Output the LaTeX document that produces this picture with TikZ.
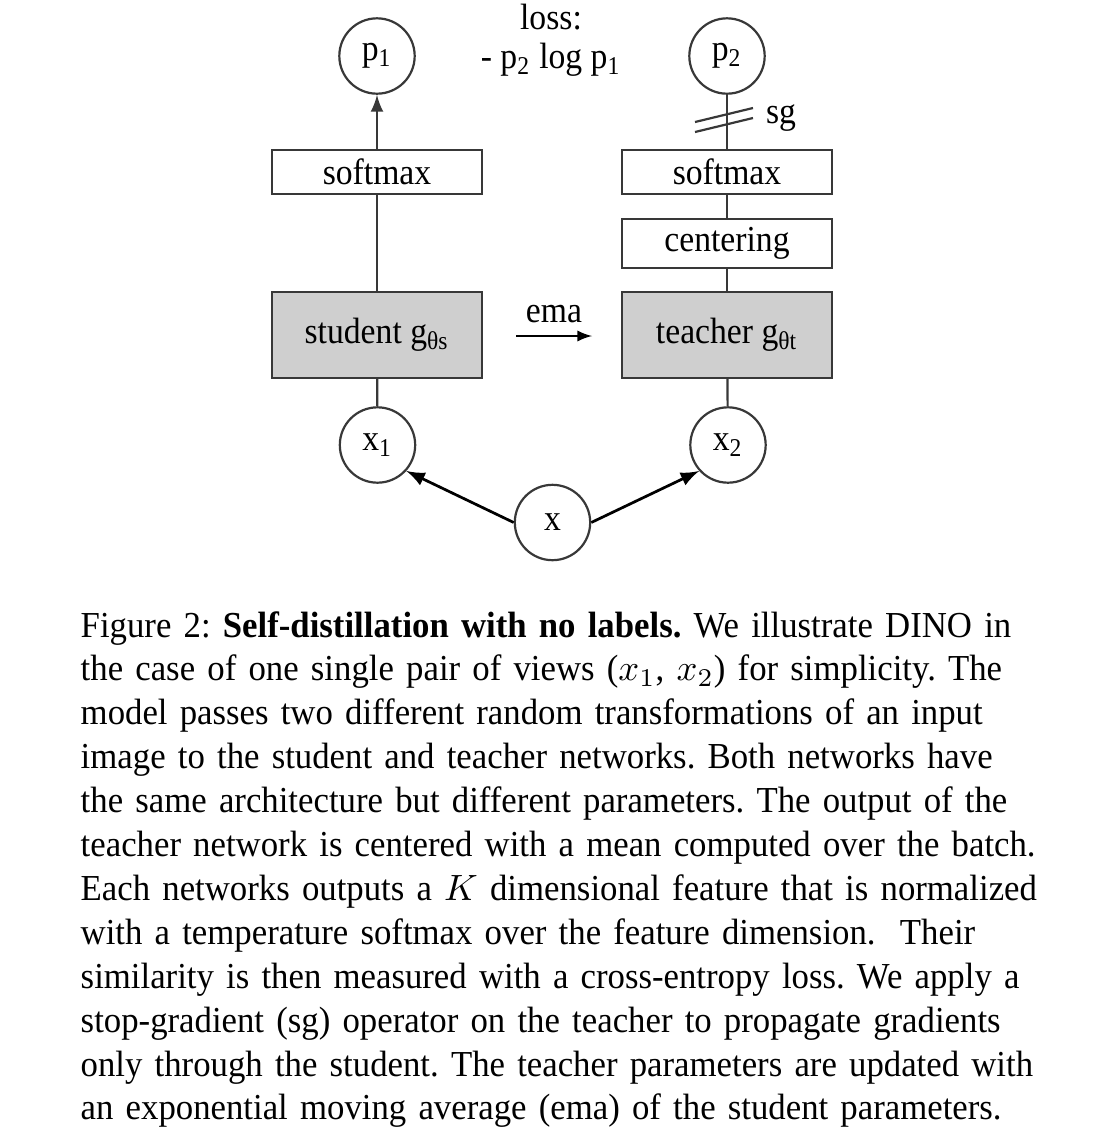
\documentclass[tikz,border=0pt]{standalone}
\usepackage[no-math]{fontspec}
\setmainfont[FakeStretch=0.95]{Liberation Serif}
\newfontfamily\diagfont[FakeStretch=0.92]{Liberation Serif}
\usetikzlibrary{arrows,positioning,calc}

\newcommand{\capfont}{\normalfont\fontsize{10}{12}\selectfont\frenchspacing
  \spaceskip=0.25em plus 0.2em minus 0.1em\relax}
\newcommand{\capline}[1]{\leavevmode\hbox to 258pt{#1}\\}

\begin{document}
\begin{tikzpicture}[x=0.2733pt,y=-0.2733pt,font=\diagfont,
    blk/.style={draw=black!78,line width=0.6pt,rectangle,minimum width=57.4pt,minimum height=12pt,inner sep=0pt},
    netblk/.style={blk,fill=black!19,minimum height=23.5pt},
    var/.style={draw=black!78,line width=0.6pt,circle,minimum size=20.6pt,inner sep=0pt},
    conn/.style={draw=black!78,line width=0.6pt}]
      \useasboundingbox (0,0) rectangle (1105,1131);

      \node[var] (p1) at (377,56) {p\textsubscript{1}};
      \node[var] (p2) at (727,56) {p\textsubscript{2}};

      \node (loss) at (551,17) {loss:};
      \node (ce) at (551,60) {- p\textsubscript{2} log p\textsubscript{1}};

      \node[blk] (smS) at (377,172) {softmax};
      \node[blk] (smT) at (727,172) {softmax};
      \node[blk,minimum height=13.4pt] (ctr) at (727,243.5) {centering};

      \node[netblk] (stu) at (377,335) {student g\textsubscript{θs}};
      \node[netblk] (tea) at (727,335) {teacher g\textsubscript{θt}};

      \node[var] (x1) at (377.5,445) {x\textsubscript{1}};
      \node[var] (x2) at (728,445) {x\textsubscript{2}};
      \node[var] (x) at (552.5,522.5) {x};

      \draw[conn,-latex] (smS)--(p1);
      \draw[conn] (stu)--(smS);
      \draw[conn] (x1)--(stu);

      \draw[conn] (smT)--(p2);
      \draw[conn] (ctr)--(smT);
      \draw[conn] (tea)--(ctr);
      \draw[conn] (x2)--(tea);

      % stop-gradient marks
      \coordinate (sgc) at (727,120);
      \draw[conn] ([shift={(-32,2)}]sgc)--([shift={(26,-12)}]sgc);
      \draw[conn] ([shift={(-32,12)}]sgc)--([shift={(26,-2)}]sgc);
      \node[anchor=base] (sg) at (781,123) {sg};

      \coordinate (emaS) at (516,336);
      \coordinate (emaT) at (592,336);
      \draw[-latex,line width=0.4pt] (emaS)--(emaT) node[midway,above] (ema) {ema};

      \draw[-latex,line width=0.75pt] (x.west)--(x1.-42);
      \draw[-latex,line width=0.75pt] (x.east)--(x2.-138);

      \node[anchor=base west,text width=258pt,inner sep=0pt,align=left,font=\capfont] (cap) at (80,637)
      {\capline{Figure 2: \textbf{Self-distillation with no labels.} We illustrate DINO in}
       \capline{the case of one single pair of views ($x_1$, $x_2$) for simplicity.\ The}
       \capline{model passes two different random transformations of an input}
       \capline{image to the student and teacher networks.\ Both networks have}
       \capline{the same architecture but different parameters. The output of the}
       \capline{teacher network is centered with a mean computed over the batch.}
       \capline{Each networks outputs a $K$ dimensional feature that is normalized}
       \capline{with a temperature softmax over the feature dimension.\ \ Their}
       \capline{similarity is then measured with a cross-entropy loss. We apply a}
       \capline{stop-gradient (sg) operator on the teacher to propagate gradients}
       \capline{only through the student. The teacher parameters are updated with}
       an exponential moving average (ema) of the student parameters.};

\end{tikzpicture}
\end{document}
